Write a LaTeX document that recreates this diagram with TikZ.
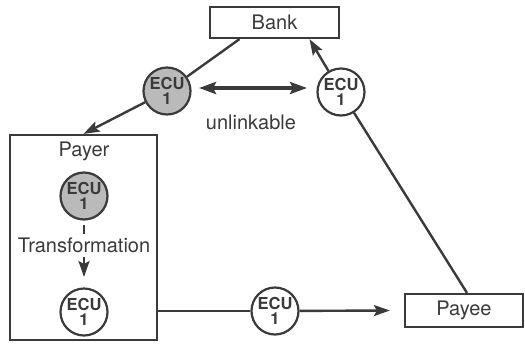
\documentclass[tikz,border=0pt]{standalone}
\usepackage{fontspec}
\setmainfont{TeX Gyre Heros}
\usetikzlibrary{arrows.meta}
\definecolor{ink}{HTML}{3A3A3A}
\definecolor{coin}{HTML}{BABABA}
\begin{document}
\begin{tikzpicture}[x=1pt,y=-1pt,
  every node/.style={text=ink},
  party/.style={draw=ink,line width=2.2pt,inner sep=0pt,
    font=\fontsize{20}{24}\selectfont},
  ecu/.style={circle,draw=ink,line width=2.2pt,minimum size=47pt,inner sep=0pt,
    align=center,font=\fontsize{16.5}{15}\selectfont\bfseries},
  blind/.style={ecu,fill=coin},
  plain/.style={ecu,fill=white},
  label/.style={font=\fontsize{20}{24}\selectfont},
  conn/.style={draw=ink,line width=2.4pt},
  tip/.style={-{Stealth[length=16pt,width=11pt,inset=3pt]}},
]
\useasboundingbox (0,0) rectangle (525,349);

% parties
\node[party,minimum width=129pt,minimum height=31pt] (bank) at (274.5,22.5) {Bank};
\node[party,minimum width=118pt,minimum height=33pt] (payee) at (464,310.5) {Payee};
\node[party,minimum width=147pt,minimum height=205pt] (payer) at (83.5,237.5) {};
\node[label] (payerlbl) at (84,151) {Payer};

% coins
\node[blind] (c1) at (167,91) {ECU\\1};
\node[plain] (c2) at (341,92) {ECU\\1};
\node[blind] (c3) at (84,196) {ECU\\1};
\node[plain] (c4) at (84,312) {ECU\\1};
\node[plain] (c5) at (275,311) {ECU\\1};

% withdrawal
\draw[conn] ([xshift=-35pt]bank.south) -- (c1);
\draw[conn,tip] (c1) -- (payer.north);

% deposit
\draw[conn] ([xshift=3pt]payee.north) -- (c2);
\draw[conn,tip] (c2) -- ([xshift=35pt]bank.south);

% payment
\draw[conn] (payer.east |- c5) -- (c5);
\draw[conn,tip] (c5) -- ([xshift=-14pt]payee.west);

% unlinkability
\coordinate (ul) at (199,88);
\coordinate (ur) at (307,88);
\draw[draw=ink,line width=3.6pt,{Stealth[length=17pt,width=12pt,inset=3pt]}-{Stealth[length=17pt,width=12pt,inset=3pt]}] (ul) -- (ur);
\node[label] (unl) at (251,122) {unlinkable};

% transformation inside the payer
\node[label] (trans) at (84,245) {Transformation};
\coordinate (d1) at (84,225);
\coordinate (d2) at (84,234);
\draw[conn] (d1) -- (d2);
\coordinate (t1) at (84,257);
\coordinate (t2) at (84,277);
\draw[conn,tip] (t1) -- (t2);
\end{tikzpicture}
\end{document}
